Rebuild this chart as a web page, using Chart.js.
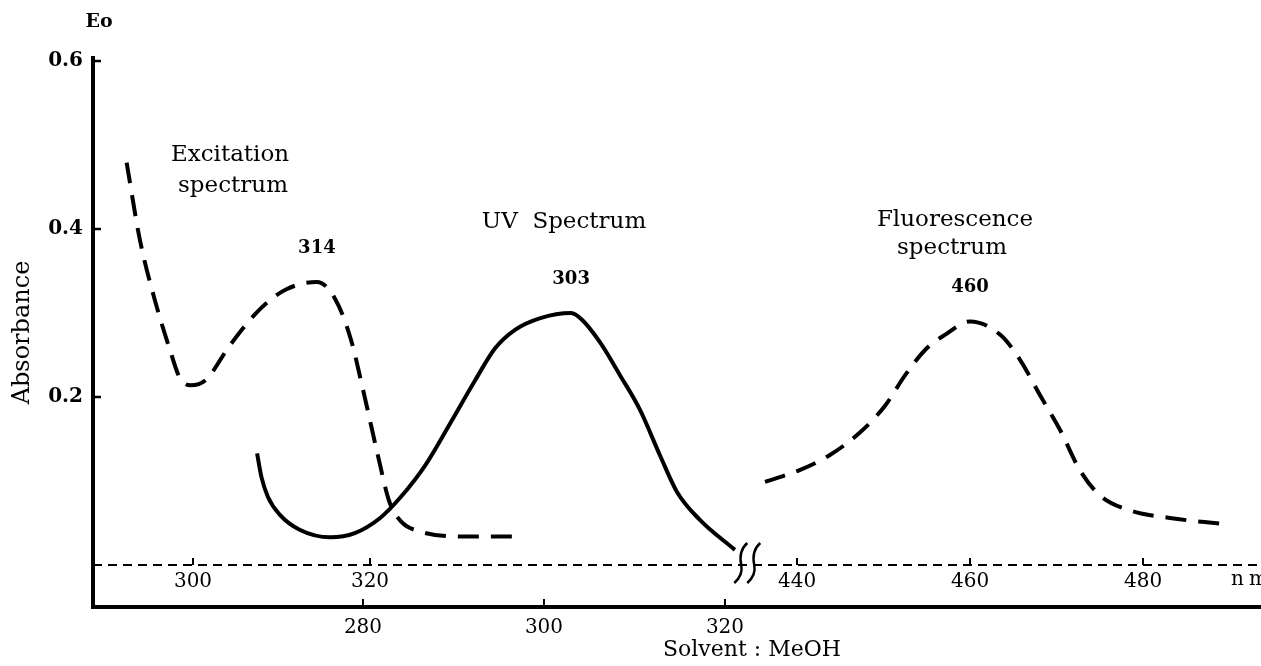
<!DOCTYPE html>
<html>
<head>
<meta charset="utf-8">
<title>Spectra - Solvent MeOH</title>
<script src="https://cdn.jsdelivr.net/npm/chart.js@4.4.0/dist/chart.umd.min.js"></script>
<style>
  html, body { margin: 0; padding: 0; background: #fff; }
</style>
</head>
<body>
<canvas id="spectra-chart" width="1261" height="666"></canvas>
<script>
// excitation spectrum (upper axis, left part)
const excitationNm = [292.5, 294.0, 295.7, 297.4, 298.5, 299.7, 301.4, 304.2, 307.6, 310.5, 314.0, 316.0, 317.8, 319.4, 320.9, 322.2, 323.5, 325.6, 330.2, 336.4];
const excitationAbs = [0.479, 0.387, 0.315, 0.256, 0.223, 0.214, 0.220, 0.262, 0.305, 0.328, 0.337, 0.318, 0.270, 0.200, 0.130, 0.075, 0.052, 0.040, 0.034, 0.034];

// UV absorption spectrum (lower axis)
const uvNm = [268.3, 268.8, 269.5, 270.8, 273.0, 276.4, 279.1, 281.9, 284.1, 286.9, 289.6, 292.4, 294.6, 296.8, 299.6, 303.0, 304.2, 306.2, 308.4, 310.6, 312.8, 314.7, 317.2, 321.1];
const uvAbs = [0.133, 0.104, 0.081, 0.060, 0.042, 0.033, 0.038, 0.056, 0.080, 0.119, 0.168, 0.220, 0.258, 0.280, 0.294, 0.300, 0.292, 0.265, 0.226, 0.185, 0.131, 0.087, 0.054, 0.018];

// fluorescence spectrum (upper axis, right part)
const fluorescenceNm = [436.3, 440.3, 443.8, 447.3, 450.2, 452.5, 454.8, 457.1, 460.0, 463.5, 465.8, 468.1, 470.4, 472.7, 475.0, 478.5, 483.1, 489.1];
const fluorescenceAbs = [0.099, 0.113, 0.131, 0.158, 0.190, 0.226, 0.256, 0.274, 0.290, 0.274, 0.244, 0.202, 0.161, 0.113, 0.083, 0.065, 0.056, 0.049];

// maxima marked above each curve (same order as the datasets)
const peakNm = [314, 303, 460];

const absorbanceTicks = [0.2, 0.4, 0.6];
const uvTicks = [280, 300, 320];
const excitationTicks = [300, 320];
const fluorescenceTicks = [440, 460, 480];

const serif = "'DejaVu Serif', 'Liberation Serif', serif";

function toPoints(xs, ys) {
  return xs.map((x, i) => ({ x: x, y: ys[i] }));
}

function fixedTicks(values) {
  return (scale) => {
    scale.ticks = values.map((v) => ({ value: v }));
  };
}

// dashed zero line shared by the excitation and fluorescence scales
const baseline = {
  id: "baseline",
  beforeDatasetsDraw(chart) {
    const ctx = chart.ctx;
    const area = chart.chartArea;
    const y = chart.scales.y.getPixelForValue(0);
    ctx.save();
    ctx.strokeStyle = "#000";
    ctx.lineWidth = 2;
    ctx.setLineDash([9, 6]);
    ctx.beginPath();
    ctx.moveTo(area.left, y);
    ctx.lineTo(area.right, y);
    ctx.stroke();
    ctx.restore();
  },
};

// short tick marks pointing into the plot, the break sign and the text labels
const decorations = {
  id: "decorations",
  afterDraw(chart) {
    const ctx = chart.ctx;
    const s = chart.scales;
    const area = chart.chartArea;
    const base = s.y.getPixelForValue(0);

    ctx.save();
    ctx.strokeStyle = "#000";
    ctx.fillStyle = "#000";
    ctx.lineCap = "butt";

    // y ticks
    ctx.lineWidth = 2.5;
    absorbanceTicks.forEach((v) => {
      const y = s.y.getPixelForValue(v);
      ctx.beginPath();
      ctx.moveTo(area.left, y);
      ctx.lineTo(area.left + 8, y);
      ctx.stroke();
    });

    // ticks on the dashed baseline
    ctx.lineWidth = 2;
    excitationTicks.forEach((v) => {
      const x = s.ex.getPixelForValue(v);
      ctx.beginPath();
      ctx.moveTo(x, base);
      ctx.lineTo(x, base - 7);
      ctx.stroke();
    });
    fluorescenceTicks.forEach((v) => {
      const x = s.fl.getPixelForValue(v);
      ctx.beginPath();
      ctx.moveTo(x, base);
      ctx.lineTo(x, base - 7);
      ctx.stroke();
    });

    // ticks on the bottom axis
    uvTicks.forEach((v) => {
      const x = s.uv.getPixelForValue(v);
      ctx.beginPath();
      ctx.moveTo(x, area.bottom);
      ctx.lineTo(x, area.bottom - 8);
      ctx.stroke();
    });

    // axis break between the two parts of the upper scale
    const bx = s.uv.getPixelForValue(321.8);
    ctx.lineWidth = 2.5;
    [0, 13].forEach((dx) => {
      const x = bx + dx;
      ctx.beginPath();
      ctx.moveTo(x + 6, base - 22);
      ctx.quadraticCurveTo(x - 3, base - 14, x, base);
      ctx.quadraticCurveTo(x + 2, base + 10, x - 7, base + 18);
      ctx.stroke();
    });

    // peak wavelengths above each maximum
    ctx.font = "bold 18px " + serif;
    ctx.textAlign = "center";
    ctx.textBaseline = "middle";
    chart.data.datasets.forEach((ds, i) => {
      const j = ds.data.findIndex((p) => p.x === peakNm[i]);
      const pt = chart.getDatasetMeta(i).data[j];
      ctx.fillText(String(peakNm[i]), pt.x, pt.y - 34);
    });

    ctx.font = "bold 19px " + serif;
    ctx.fillText("Eo", 99, 22);

    ctx.font = "23px " + serif;
    ctx.fillText("Excitation", 230, 155);
    ctx.fillText("spectrum", 233, 186);
    ctx.fillText("UV  Spectrum", 564, 222);
    ctx.fillText("Fluorescence", 955, 220);
    ctx.fillText("spectrum", 952, 248);

    ctx.font = "22px " + serif;
    ctx.fillText("Solvent : MeOH", 752, 650);

    ctx.font = "20px " + serif;
    ctx.textAlign = "left";
    ctx.letterSpacing = "5px";
    ctx.fillText("nm", 1231, base + 15);
    ctx.restore();
  },
};

const tickFont = { family: serif, size: 20 };

function curve(label, axisId, xs, ys, dashed) {
  return {
    label: label,
    xAxisID: axisId,
    data: toPoints(xs, ys),
    borderColor: "#000",
    borderWidth: 4,
    borderDash: dashed ? [21, 12] : [],
    pointRadius: 0,
    cubicInterpolationMode: "monotone",
    fill: false,
  };
}

const config = {
  type: "line",
  data: {
    datasets: [
      curve("Excitation spectrum", "ex", excitationNm, excitationAbs, true),
      curve("UV Spectrum", "uv", uvNm, uvAbs, false),
      curve("Fluorescence spectrum", "fl", fluorescenceNm, fluorescenceAbs, true),
    ],
  },
  options: {
    responsive: false,
    animation: false,
    layout: { padding: { top: 58, right: 0, bottom: 0, left: 0 } },
    plugins: {
      legend: { display: false },
      tooltip: { enabled: false },
    },
    scales: {
      y: {
        type: "linear",
        position: "left",
        min: -0.05,
        max: 0.6036,
        afterBuildTicks: fixedTicks(absorbanceTicks),
        afterFit: (scale) => {
          scale.width = 93;
        },
        grid: { display: false, drawTicks: false },
        border: { display: true, color: "#000", width: 4 },
        ticks: {
          color: "#000",
          padding: 10,
          font: { family: serif, size: 20, weight: "bold" },
          callback: (v) => v.toFixed(1),
        },
        title: {
          display: true,
          text: "Absorbance",
          color: "#000",
          font: { family: serif, size: 24 },
          padding: { top: 8, bottom: 0 },
        },
      },
      uv: {
        type: "linear",
        axis: "x",
        position: "bottom",
        min: 250.17,
        max: 379.23,
        afterBuildTicks: fixedTicks(uvTicks),
        afterFit: (scale) => {
          scale.height = 59;
        },
        grid: { display: false, drawTicks: false },
        border: { display: true, color: "#000", width: 4 },
        ticks: { color: "#000", padding: 9, font: tickFont },
      },
      ex: {
        type: "linear",
        axis: "x",
        position: { y: 0 },
        min: 288.7,
        max: 420.68,
        afterBuildTicks: fixedTicks(excitationTicks),
        grid: { display: false, drawTicks: false },
        border: { display: false },
        ticks: { color: "#000", padding: 5, font: tickFont },
      },
      fl: {
        type: "linear",
        axis: "x",
        position: { y: 0 },
        min: 358.61,
        max: 493.64,
        afterBuildTicks: fixedTicks(fluorescenceTicks),
        grid: { display: false, drawTicks: false },
        border: { display: false },
        ticks: { color: "#000", padding: 5, font: tickFont },
      },
    },
  },
  plugins: [baseline, decorations],
};

const ctx = document.getElementById("spectra-chart").getContext("2d");
const spectraChart = new Chart(ctx, config);
</script>
</body>
</html>
